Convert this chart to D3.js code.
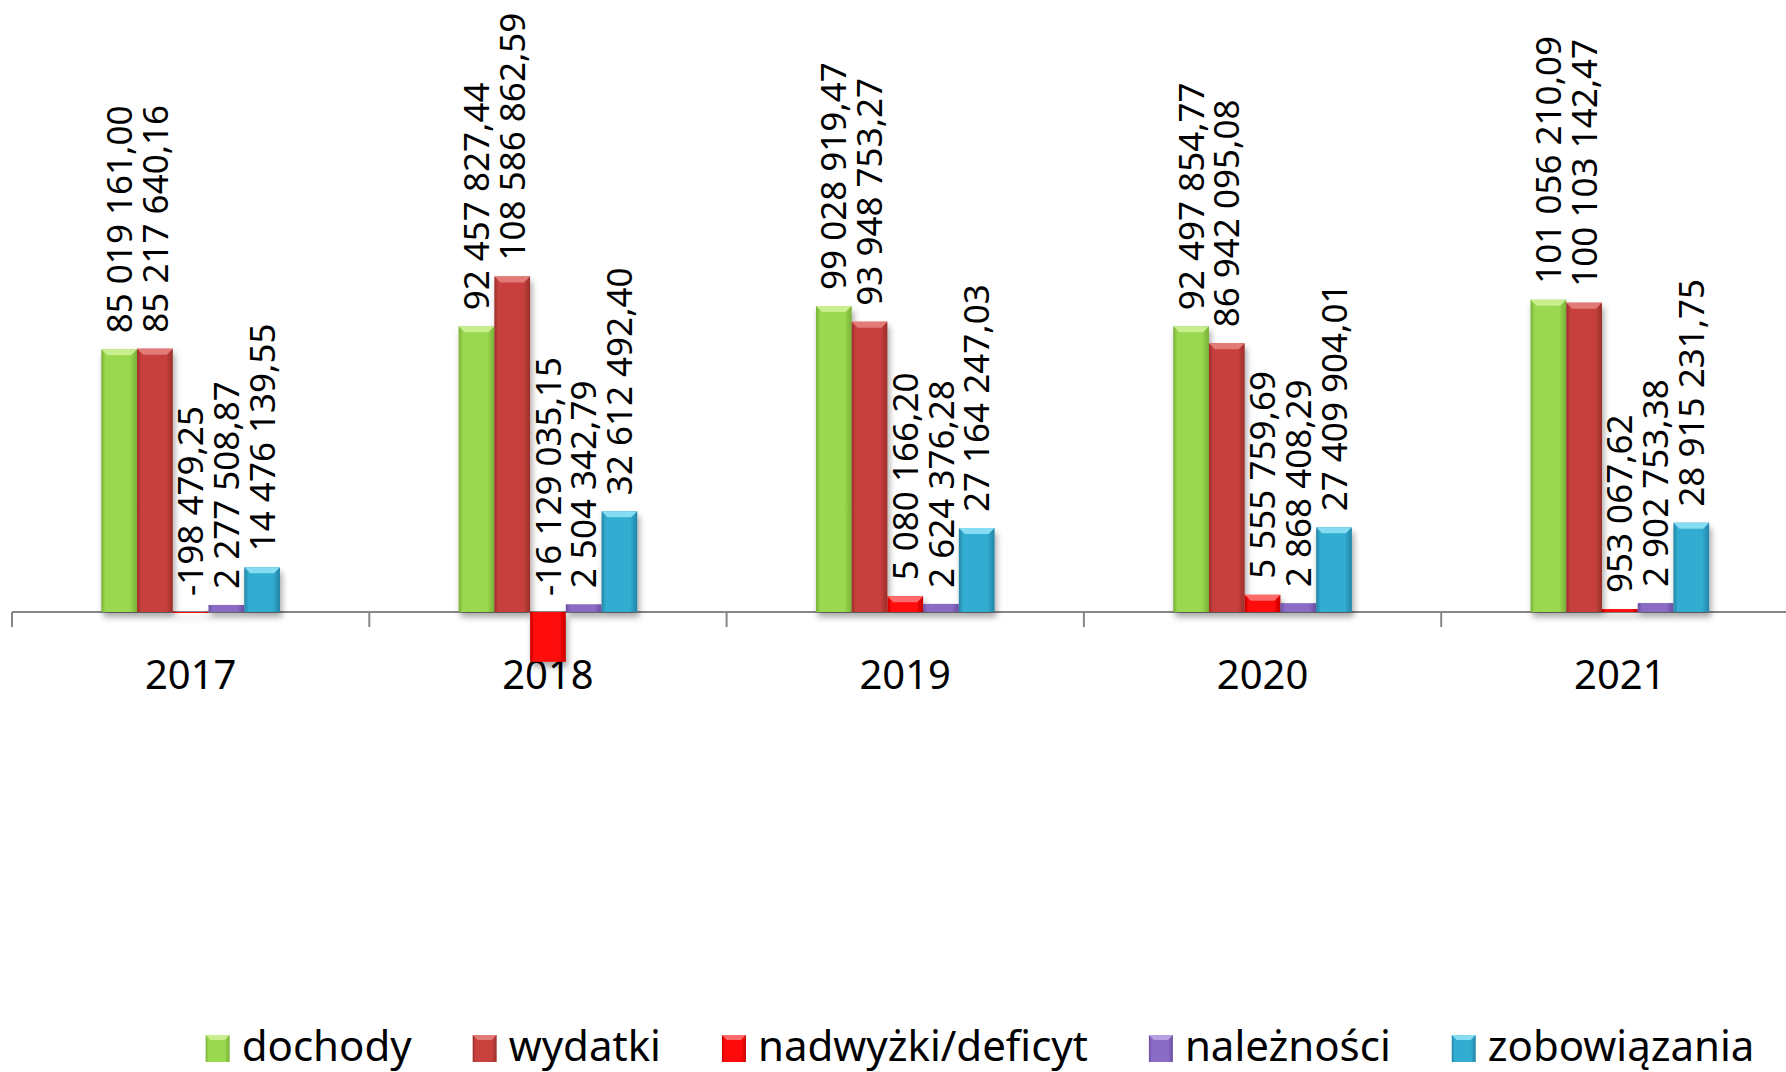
<!DOCTYPE html>
<html>
<head>
<meta charset="utf-8">
<script src="https://cdn.jsdelivr.net/npm/d3@7"></script>
<style>
  body { margin: 0; background: #fff; }
  svg { display: block; }
</style>
</head>
<body>
<div id="chart"></div>
<script>
// dane
var years = ["2017", "2018", "2019", "2020", "2021"]
var seriesNames = ["dochody", "wydatki", "nadwyżki/deficyt", "należności", "zobowiązania"]
var dochody = [85019161.00, 92457827.44, 99028919.47, 92497854.77, 101056210.09]
var wydatki = [85217640.16, 108586862.59, 93948753.27, 86942095.08, 100103142.47]
var deficyt = [-198479.25, -16129035.15, 5080166.20, 5555759.69, 953067.62]
var naleznosci = [2277508.87, 2504342.79, 2624376.28, 2868408.29, 2902753.38]
var zobowiazania = [14476139.55, 32612492.40, 27164247.03, 27409904.01, 28915231.75]

var seriesValues = [dochody, wydatki, deficyt, naleznosci, zobowiazania]

// kolory: podstawa, faza (jasna), krawedz (ciemna)
var colors = [
  {base: "#9ad84f", light: "#c8ee8e", dark: "#78b036"},
  {base: "#c8413d", light: "#e27a76", dark: "#9a2e2b"},
  {base: "#ff0a0a", light: "#ff6a6a", dark: "#c80000"},
  {base: "#8a6cc4", light: "#b8a0e4", dark: "#6a4ea0"},
  {base: "#32acd0", light: "#86dcf2", dark: "#2384a6"}
]

var width = 1786, height = 1072
var font = "'Noto Sans', 'Open Sans', sans-serif"

var pl = d3.formatLocale({decimal: ",", thousands: " ", grouping: [3], currency: ["", " zł"], minus: "-"})
var fmt = pl.format(",.2f")

var svg = d3.select("#chart").append("svg")
  .attr("width", width)
  .attr("height", height)
  .style("background", "#fff")

var defs = svg.append("defs")
colors.forEach(function(c, i) {
  var g = defs.append("linearGradient").attr("id", "grad" + i)
    .attr("x1", "0%").attr("x2", "100%").attr("y1", "0%").attr("y2", "0%")
  g.append("stop").attr("offset", "0%").attr("stop-color", c.dark)
  g.append("stop").attr("offset", "12%").attr("stop-color", c.base)
  g.append("stop").attr("offset", "80%").attr("stop-color", c.base)
  g.append("stop").attr("offset", "100%").attr("stop-color", c.dark)
})
var sh = defs.append("filter").attr("id", "shadow")
  .attr("x", "-30%").attr("y", "-10%").attr("width", "160%").attr("height", "130%")
sh.append("feDropShadow").attr("dx", 2).attr("dy", 5).attr("stdDeviation", 3)
  .attr("flood-color", "#000").attr("flood-opacity", 0.35)

// skale
var x0 = d3.scaleBand().domain(years).range([12, 12 + 5 * 357.3])
  .paddingInner(0.5).paddingOuter(0.25)
var x1 = d3.scaleBand().domain(d3.range(seriesNames.length)).range([0, x0.bandwidth()])
var y = d3.scaleLinear().domain([-20e6, 120e6]).range([673.8, 241.2])

// os
var axisG = svg.append("g")
axisG.append("line")
  .attr("x1", 12).attr("x2", width)
  .attr("y1", y(0)).attr("y2", y(0))
  .attr("stroke", "#868686").attr("stroke-width", 2)
var bounds = years.map(function(d) { return x0(d) - x0.step() * 0.25 })
bounds.push(x0(years[years.length - 1]) + x0.step() * 0.75)
axisG.selectAll(".tick").data(bounds).join("line")
  .attr("x1", function(d) { return d }).attr("x2", function(d) { return d })
  .attr("y1", y(0)).attr("y2", y(0) + 15)
  .attr("stroke", "#868686").attr("stroke-width", 2)
axisG.selectAll(".year").data(years).join("text")
  .attr("x", function(d) { return x0(d) + x0.bandwidth() / 2 })
  .attr("y", 689)
  .attr("text-anchor", "middle")
  .attr("font-family", font).attr("font-size", 40)
  .attr("fill", "#000")
  .text(function(d) { return d })

// slupki
var bars = []
years.forEach(function(yr, i) {
  seriesValues.forEach(function(vals, s) {
    bars.push({year: yr, s: s, v: vals[i]})
  })
})

var bw = x1.bandwidth()
var bev = 6
var barG = svg.append("g").attr("filter", "url(#shadow)")
var bar = barG.selectAll("g.bar").data(bars).join("g").attr("class", "bar")
bar.append("rect")
  .attr("x", function(d) { return x0(d.year) + x1(d.s) })
  .attr("width", bw)
  .attr("y", function(d) { return Math.min(y(d.v), y(0)) })
  .attr("height", function(d) { return Math.max(Math.abs(y(d.v) - y(0)), 1) })
  .attr("fill", function(d) { return "url(#grad" + d.s + ")" })
bar.filter(function(d) { return y(0) - y(d.v) > bev * 1.5 })
  .append("polygon")
  .attr("points", function(d) {
    var xl = x0(d.year) + x1(d.s), yt = y(d.v)
    return [[xl, yt], [xl + bw, yt], [xl + bw - bev, yt + bev], [xl + bev, yt + bev]].join(" ")
  })
  .attr("fill", function(d) { return colors[d.s].light })

// etykiety danych
var gap = 16
svg.append("g").selectAll("text").data(bars).join("text")
  .attr("transform", function(d) {
    var cx = x0(d.year) + x1(d.s) + bw / 2
    return "translate(" + cx + "," + (y(Math.max(d.v, 0)) - gap) + ") rotate(-90)"
  })
  .attr("dy", "0.36em")
  .attr("text-anchor", "start")
  .attr("font-family", font).attr("font-size", 35)
  .attr("fill", "#000")
  .text(function(d) { return fmt(d.v) })

// legenda
var legend = svg.append("g")
var sw = 24, swh = 27, tgap = 12, igap = 61
var ly = 1035
var items = legend.selectAll("g").data(seriesNames).join("g")
items.append("rect")
  .attr("width", sw).attr("height", swh)
  .attr("y", ly)
  .attr("fill", function(d, i) { return "url(#grad" + i + ")" })
items.append("polygon")
  .attr("points", function() {
    return [[0, ly], [sw, ly], [sw - 5, ly + 5], [5, ly + 5]].join(" ")
  })
  .attr("fill", function(d, i) { return colors[i].light })
items.append("text")
  .attr("x", sw + tgap).attr("y", 1061)
  .attr("font-family", font).attr("font-size", 42)
  .attr("fill", "#000")
  .text(function(d) { return d })

var widths = []
items.select("text").each(function() { widths.push(this.getComputedTextLength()) })
var total = d3.sum(widths) + widths.length * (sw + tgap) + (widths.length - 1) * igap
var lx = 980 - total / 2
items.attr("transform", function(d, i) {
  var t = "translate(" + lx + ",0)"
  lx += sw + tgap + widths[i] + igap
  return t
})
</script>
</body>
</html>
